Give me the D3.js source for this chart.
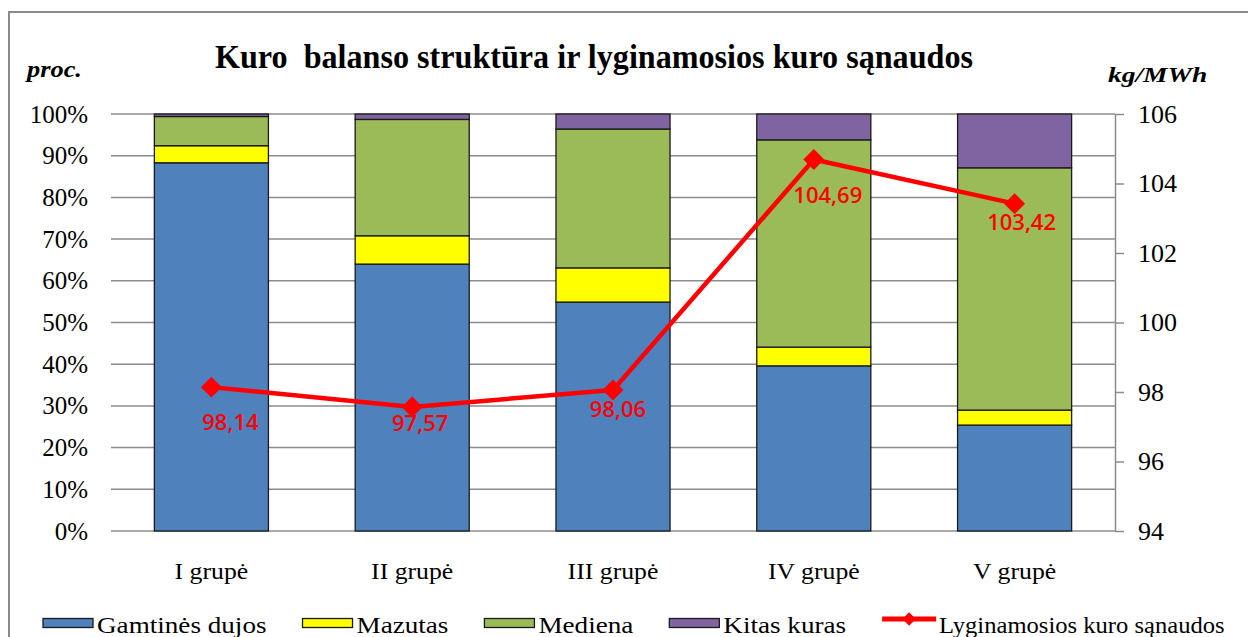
<!DOCTYPE html>
<html>
<head>
<meta charset="utf-8">
<script src="https://cdn.jsdelivr.net/npm/d3@7"></script>
<style>
  body { margin: 0; background: #fff; }
  text { font-family: "Liberation Serif", "Times New Roman", serif; }
  text.val { font-family: "Open Sans", sans-serif; }
</style>
</head>
<body>
<svg width="1248" height="637"></svg>
<script>
var categories = ["I grupė", "II grupė", "III grupė", "IV grupė", "V grupė"];
var gas   = [88.3, 64.0, 54.9, 39.6, 25.4];
var mazut = [4.1, 6.8, 8.2, 4.5, 3.6];
var wood  = [7.0, 27.9, 33.3, 49.7, 58.1];
var other = [0.6, 1.3, 3.6, 6.2, 12.9];
var consumption = [98.14, 97.57, 98.06, 104.69, 103.42];

var seriesKeys  = ["gas", "mazut", "wood", "other"];
var seriesNames = ["Gamtinės dujos", "Mazutas", "Mediena", "Kitas kuras"];
var lineName = "Lyginamosios kuro sąnaudos";
var leftTicks  = [0, 10, 20, 30, 40, 50, 60, 70, 80, 90, 100];
var rightTicks = [94, 96, 98, 100, 102, 104, 106];

// hand placed value labels (offset from the marker)
var labelDx = [19, 8, 5, 14, 7];
var labelDy = [43, 24, 27, 43, 26];

var colors = { gas: "#4f81bd", mazut: "#ffff00", wood: "#9bbb59", other: "#8064a2" };

var svg = d3.select("svg"),
    width = +svg.attr("width"),
    height = +svg.attr("height");

var plot = { left: 111, right: 1115, top: 114, bottom: 531 };

var lt = d3.formatLocale({ decimal: ",", thousands: " ", grouping: [3], currency: ["", ""] });
var fmt = lt.format(".2f");

var rows = categories.map(function(c, i) {
  return { cat: c, gas: gas[i], mazut: mazut[i], wood: wood[i], other: other[i] };
});
var stacked = d3.stack().keys(seriesKeys)(rows);

var x = d3.scaleBand()
    .domain(categories)
    .range([plot.left, plot.right])
    .paddingInner(0.432)
    .paddingOuter(0.216);

var y = d3.scaleLinear().domain([0, 100]).range([plot.bottom, plot.top]);
var yR = d3.scaleLinear().domain([94, 106]).range([plot.bottom, plot.top]);

// outer frame
svg.append("rect")
    .attr("x", 9).attr("y", 12)
    .attr("width", width + 20).attr("height", height + 20)
    .attr("fill", "none")
    .attr("stroke", "#8a8a8a")
    .attr("stroke-width", 2);

// stretched text helper
function sText(px, py, str, size, sx, anchor) {
  var g = svg.append("g").attr("transform", "translate(" + px + "," + py + ")");
  var t = g.append("text")
      .attr("transform", "scale(" + sx + ",1)")
      .attr("font-size", size)
      .attr("text-anchor", anchor || "start")
      .text(str);
  return t;
}

// title
svg.append("text")
    .attr("x", 215).attr("y", 68)
    .attr("font-size", 33)
    .attr("font-weight", "bold")
    .attr("textLength", 758)
    .attr("lengthAdjust", "spacingAndGlyphs")
    .style("white-space", "pre")
    .text("Kuro  balanso struktūra ir lyginamosios kuro sąnaudos");

sText(27, 77, "proc.", 24, 1.1).attr("font-weight", "bold").attr("font-style", "italic");
sText(1108, 82, "kg/MWh", 22, 1.25).attr("font-weight", "bold").attr("font-style", "italic");

// gridlines
svg.append("g").selectAll("line")
  .data(leftTicks)
  .enter().append("line")
    .attr("x1", plot.left).attr("x2", plot.right)
    .attr("y1", function(d) { return y(d); })
    .attr("y2", function(d) { return y(d); })
    .attr("stroke", "#8c8c8c")
    .attr("stroke-width", 1.5);

// left tick labels
svg.append("g").selectAll("text")
  .data(leftTicks)
  .enter().append("text")
    .attr("x", 88)
    .attr("y", function(d) { return y(d); })
    .attr("dy", "0.34em")
    .attr("text-anchor", "end")
    .attr("font-size", 25)
    .text(function(d) { return d + "%"; });

// bars
svg.append("g").selectAll("g")
  .data(stacked)
  .enter().append("g")
    .attr("fill", function(d) { return colors[d.key]; })
  .selectAll("rect")
  .data(function(d) { return d; })
  .enter().append("rect")
    .attr("x", function(d) { return x(d.data.cat); })
    .attr("y", function(d) { return y(d[1]); })
    .attr("width", x.bandwidth())
    .attr("height", function(d) { return y(d[0]) - y(d[1]); })
    .attr("stroke", "#1a1a1a")
    .attr("stroke-width", 1.3);

// right axis
var axisR = svg.append("g")
    .attr("transform", "translate(" + plot.right + ",0)")
    .call(d3.axisRight(yR).tickValues(rightTicks).tickSize(9).tickSizeOuter(0).tickPadding(14));
axisR.select(".domain").attr("stroke", "#8c8c8c").attr("stroke-width", 1.5);
axisR.selectAll(".tick line").attr("stroke", "#8c8c8c").attr("stroke-width", 1.5);
axisR.selectAll(".tick text")
    .attr("font-size", 26)
    .attr("fill", "#000");

// category labels
categories.forEach(function(c) {
  sText(x(c) + x.bandwidth() / 2, 579, c, 23, 1.12, "middle");
});

// line series
var cx = function(i) { return x(categories[i]) + x.bandwidth() / 2; };
var line = d3.line()
    .x(function(d, i) { return cx(i); })
    .y(function(d) { return yR(d); });

svg.append("path")
    .datum(consumption)
    .attr("d", line)
    .attr("fill", "none")
    .attr("stroke", "#ff0000")
    .attr("stroke-width", 4.5)
    .attr("stroke-linejoin", "round");

var marker = d3.symbol().type(d3.symbolSquare).size(220);
svg.append("g").selectAll("path")
  .data(consumption)
  .enter().append("path")
    .attr("d", marker)
    .attr("fill", "#ff0000")
    .attr("transform", function(d, i) {
      return "translate(" + cx(i) + "," + yR(d) + ") rotate(45)";
    });

svg.append("g").selectAll("text")
  .data(consumption)
  .enter().append("text")
    .attr("class", "val")
    .attr("x", function(d, i) { return cx(i) + labelDx[i]; })
    .attr("y", function(d, i) { return yR(d) + labelDy[i]; })
    .attr("text-anchor", "middle")
    .attr("font-weight", 600)
    .attr("font-size", 22)
    .attr("fill", "#ff0000")
    .text(function(d) { return fmt(d); });

// legend
var lx = 43, ly = 623, legSx = 1.18;
seriesKeys.forEach(function(k, i) {
  svg.append("rect")
      .attr("x", lx).attr("y", ly - 4.5)
      .attr("width", 50).attr("height", 9)
      .attr("fill", colors[k])
      .attr("stroke", "#1a1a1a")
      .attr("stroke-width", 1.3);
  var t = sText(lx + 54, ly + 10, seriesNames[i], 23, legSx);
  lx += 54 + t.node().getComputedTextLength() * legSx + 36;
});
svg.append("line")
    .attr("x1", lx).attr("x2", lx + 54)
    .attr("y1", ly - 4).attr("y2", ly - 4)
    .attr("stroke", "#ff0000")
    .attr("stroke-width", 5);
svg.append("path")
    .attr("d", d3.symbol().type(d3.symbolSquare).size(90))
    .attr("fill", "#ff0000")
    .attr("transform", "translate(" + (lx + 27) + "," + (ly - 4) + ") rotate(45)");
sText(lx + 57, ly + 10, lineName, 23, 1.07);
</script>
</body>
</html>
